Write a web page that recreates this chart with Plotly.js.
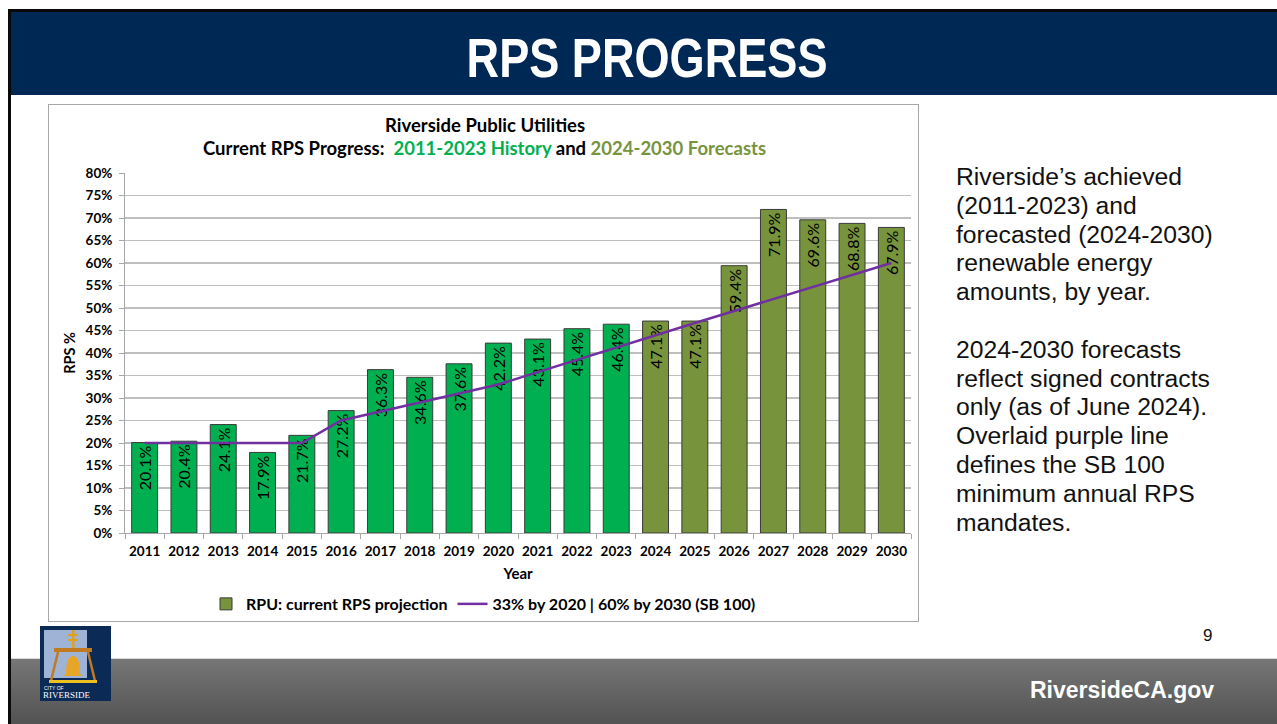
<!DOCTYPE html>
<html>
<head>
<meta charset="utf-8">
<script src="https://cdn.plot.ly/plotly-3.0.1.min.js"></script>
<style>
  html, body { margin:0; padding:0; background:#fff; }
  #slide { position:relative; width:1277px; height:724px; overflow:hidden; background:#fff; font-family:"Liberation Sans", Arial, sans-serif; }
  #topline { position:absolute; left:8px; top:9px; width:1269px; height:3px; background:#0a0a0a; }
  #leftline { position:absolute; left:8px; top:9px; width:3px; height:715px; background:#0a0a0a; }
  #header { position:absolute; left:11px; top:12px; width:1266px; height:83px; background:#002855; }
  #header h1 { margin:0; position:absolute; left:0; right:0; top:17px; text-align:center; color:#fff; font-family:"Liberation Sans", Arial, sans-serif; font-weight:bold; font-size:55px; line-height:58px; transform:scaleX(0.82); transform-origin:650px 0; }
  #chartbox { position:absolute; left:48px; top:104px; width:869px; height:516px; border:1px solid #a8a8a8; }
  #chart { width:869px; height:516px; }
  #sidetext { position:absolute; left:956px; top:163px; width:320px; color:#111; font-family:"Liberation Sans", Arial, sans-serif; font-size:24.7px; line-height:28.8px; }
  #pagenum { position:absolute; left:1203px; top:626px; font-size:17px; color:#111; font-family:"Liberation Sans", Arial, sans-serif; }
  #footer { position:absolute; left:11px; top:658px; width:1266px; height:66px; background:linear-gradient(#767676, #525252); border-top:1px solid #d9d9d9; }
  #footer span { position:absolute; left:1019px; top:18px; color:#fff; font-weight:bold; font-size:23px; font-family:"Liberation Sans", Arial, sans-serif; }
  #logo { position:absolute; left:40px; top:626px; width:71px; height:75px; z-index:5; }
</style>
</head>
<body>
<div id="slide">
  <div id="header"><h1>RPS PROGRESS</h1></div>
  <div id="topline"></div>
  <div id="leftline"></div>
  <div id="chartbox"><div id="chart"></div></div>
  <div id="sidetext">Riverside’s achieved<br>(2011-2023) and<br>forecasted (2024-2030)<br>renewable energy<br>amounts, by year.<br><br>2024-2030 forecasts<br>reflect signed contracts<br>only (as of June 2024).<br>Overlaid purple line<br>defines the SB 100<br>minimum annual RPS<br>mandates.</div>
  <div id="pagenum">9</div>
  <div id="footer"><span>RiversideCA.gov</span></div>
  <svg id="logo" viewBox="0 0 71 75">
    <rect x="0" y="0" width="71" height="75" fill="#0b2a55"/>
    <rect x="4" y="4" width="43" height="48" fill="#9fb3d6"/>
    <rect x="32" y="4" width="2.5" height="20" fill="#e0a020"/>
    <rect x="28" y="8" width="10" height="2" fill="#e0a020"/>
    <rect x="28" y="13" width="10" height="2" fill="#e0a020"/>
    <rect x="14" y="22" width="38" height="4" fill="#c07a20"/>
    <line x1="18" y1="26" x2="11" y2="55" stroke="#c07a20" stroke-width="2.5"/>
    <line x1="48" y1="26" x2="55" y2="55" stroke="#c07a20" stroke-width="2.5"/>
    <path d="M26 48 Q26 30 33 30 Q40 30 40 48 L43 50 L23 50 Z" fill="#e8a628"/>
    <rect x="9" y="54" width="48" height="3" fill="#f0c020"/>
    <text x="4" y="64" fill="#fff" font-size="5" font-family="Liberation Sans">CITY OF</text>
    <text x="3" y="72" fill="#fff" font-size="9" font-family="Liberation Serif">RIVERSIDE</text>
  </svg>
</div>
<script>
const years = ['2011','2012','2013','2014','2015','2016','2017','2018','2019','2020','2021','2022','2023','2024','2025','2026','2027','2028','2029','2030'];
const rpsValues = [20.1,20.4,24.1,17.9,21.7,27.2,36.3,34.6,37.6,42.2,43.1,45.4,46.4,47.1,47.1,59.4,71.9,69.6,68.8,67.9];
const periods = ['history','history','history','history','history','history','history','history','history','history','history','history','history','forecast','forecast','forecast','forecast','forecast','forecast','forecast'];
const mandate = [20,20,20,20,20,25,27,29,31,33,35.75,38.5,41.25,44,46.67,49.33,52,54.67,57.33,60];

const GREEN = '#00b050', OLIVE = '#77933c', PURPLE = '#7030a0';
const FONT = 'Lato, "Open Sans", sans-serif';

function pick(period) {
  const x = [], y = [];
  years.forEach((yr, i) => { if (periods[i] === period) { x.push(yr); y.push(rpsValues[i]); } });
  return {x, y};
}
const hist = pick('history'), fc = pick('forecast');

const barCommon = {
  type: 'bar',
  texttemplate: '%{y:.1f}%',
  textposition: 'inside',
  insidetextanchor: 'end',
  textangle: -90,
  constraintext: 'none',
  insidetextfont: {family: FONT, size: 16, color: '#000'},
  hoverinfo: 'x+y'
};

const traces = [
  Object.assign({}, barCommon, {x: hist.x, y: hist.y, name: 'RPU history', showlegend: false,
    marker: {color: GREEN, line: {color: '#3a3a3a', width: 1}}}),
  Object.assign({}, barCommon, {x: fc.x, y: fc.y, name: 'RPU: current RPS projection', showlegend: true,
    marker: {color: OLIVE, line: {color: '#3a3a3a', width: 1}}}),
  {type: 'scatter', mode: 'lines', x: years, y: mandate, name: '33% by 2020 | 60% by 2030 (SB 100)',
    line: {color: PURPLE, width: 2.5}}
];

const titleX = 0.458;
const layout = {
  width: 869, height: 516,
  paper_bgcolor: '#fff', plot_bgcolor: '#fff',
  margin: {l: 76, r: 7, t: 68, b: 88},
  font: {family: FONT, color: '#000'},
  barmode: 'overlay',
  bargap: 0.34,
  showlegend: true,
  annotations: [
    {text: '<b>Riverside Public Utilities</b>', xref: 'paper', yref: 'paper', x: titleX, y: 1 + (68 - 20) / 360,
      xanchor: 'center', yanchor: 'middle', showarrow: false, font: {family: FONT, size: 18.5, color: '#000'}},
    {text: '<b>Current RPS Progress:&nbsp;&nbsp;<span style="color:' + GREEN + '">2011-2023 History</span> and <span style="color:' + OLIVE + '">2024-2030 Forecasts</span></b>',
      xref: 'paper', yref: 'paper', x: titleX, y: 1 + (68 - 43) / 360,
      xanchor: 'center', yanchor: 'middle', showarrow: false, font: {family: FONT, size: 18.5, color: '#000'}}
  ],
  xaxis: {
    type: 'category', categoryorder: 'array', categoryarray: years,
    tickson: 'boundaries', ticks: 'outside', ticklen: 5, tickcolor: '#a6a6a6',
    showline: true, linecolor: '#a6a6a6', linewidth: 1,
    showgrid: false, ticklabelstandoff: 6, tickangle: 0,
    tickfont: {family: FONT, size: 13.5, color: '#000', weight: 'bold'},
    title: {text: '<b>Year</b>', font: {family: FONT, size: 15, color: '#000'}, standoff: 10},
    fixedrange: true
  },
  yaxis: {
    range: [0, 80], dtick: 5, ticksuffix: '%',
    ticks: 'outside', ticklen: 5, tickcolor: '#a6a6a6',
    showline: true, linecolor: '#a6a6a6', linewidth: 1,
    showgrid: true, gridcolor: '#bfbfbf', gridwidth: 1.3,
    zeroline: false, ticklabelstandoff: 4,
    tickfont: {family: FONT, size: 13.5, color: '#000', weight: 'bold'},
    title: {text: '<b>RPS %</b>', font: {family: FONT, size: 14.5, color: '#000'}, standoff: 6},
    fixedrange: true
  },
  legend: {
    orientation: 'h', xref: 'container', yref: 'container',
    x: 0.5, xanchor: 'center', y: 0.033, yanchor: 'middle',
    font: {family: FONT, size: 16, color: '#000', weight: 'bold'},
    itemwidth: 30, traceorder: 'normal'
  }
};

Plotly.newPlot('chart', traces, layout, {displayModeBar: false, staticPlot: true});
</script>
</body>
</html>
